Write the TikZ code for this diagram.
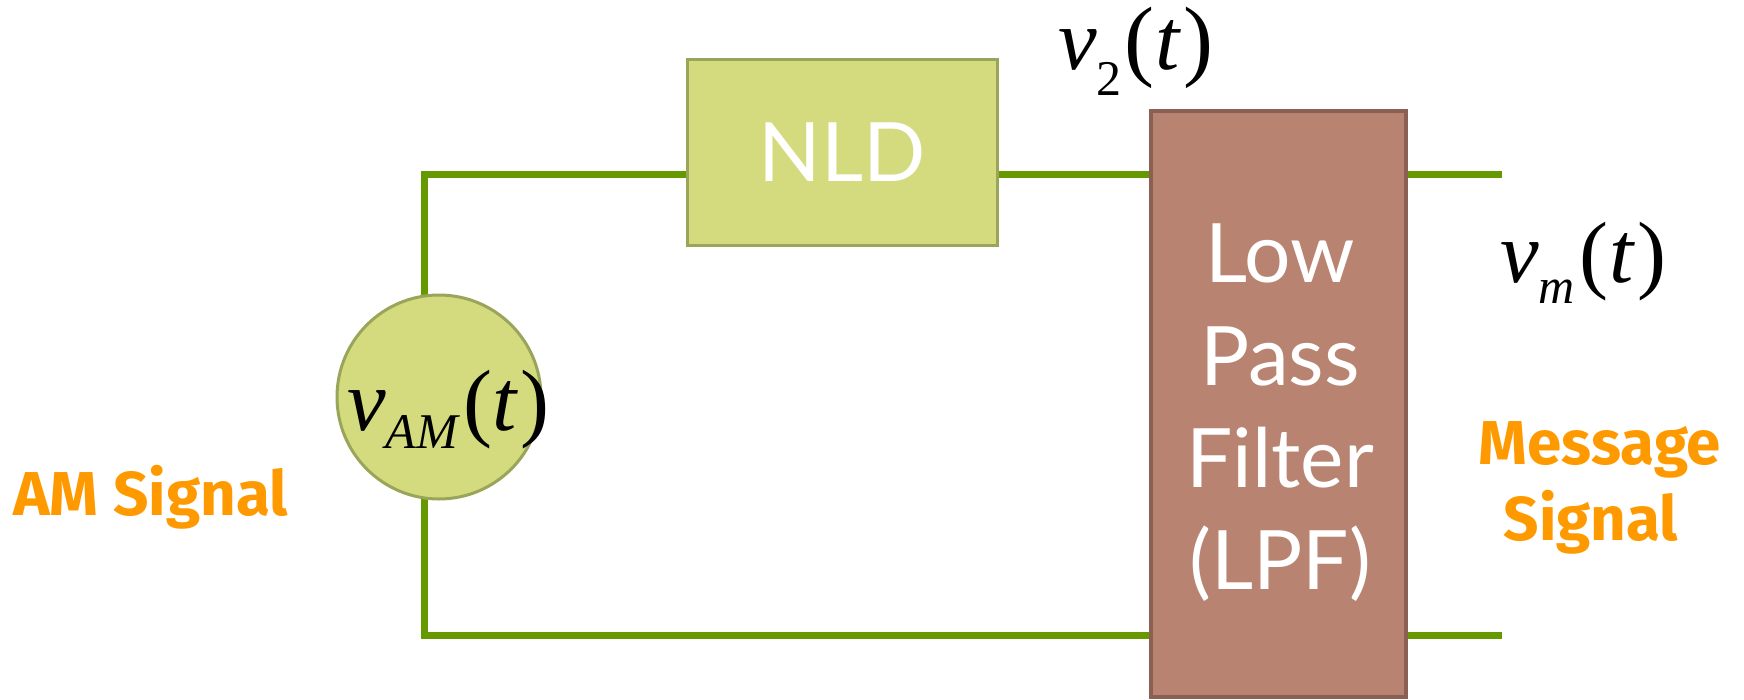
\documentclass[tikz,border=0pt]{standalone}
\usepackage{fontspec}
\setmainfont{Lato}
\newfontfamily\tms{Liberation Serif}
\newfontfamily\heavysans{Fira Sans}

\definecolor{wiregreen}{HTML}{669900}
\definecolor{nldfill}{HTML}{D4DB7E}
\definecolor{nldline}{HTML}{9BA55A}
\definecolor{lpffill}{HTML}{B88471}
\definecolor{lpfline}{HTML}{8C5F54}
\definecolor{labelorange}{HTML}{FF9900}

% italic v with a subscript, followed by (t); #4 is the size of the brackets
\newcommand{\sigvar}[4]{%
  {\fontsize{87}{87}\tms\itshape v}%
  \raisebox{-#2pt}{\fontsize{50}{50}\tms #1}%
  \kern#3pt{\fontsize{#4}{#4}\tms(\kern1pt{\fontsize{87}{87}\selectfont\textit{t}}\kern2pt)}}

\begin{document}
\begin{tikzpicture}[x=1pt,y=-1pt,
  wire/.style={draw=wiregreen,line width=7pt,line join=miter,line cap=butt},
  nldbox/.style={rectangle,fill=nldfill,draw=nldline,line width=3pt,inner sep=0pt},
  lpfbox/.style={rectangle,fill=lpffill,draw=lpfline,line width=4pt,inner sep=0pt},
  blocktext/.style={text=white,font=\fontsize{82}{102.3}\selectfont,align=center,inner sep=0pt},
  signame/.style={text=labelorange,font=\fontsize{62}{76}\heavysans\bfseries,align=center,inner sep=0pt},
  mathlabel/.style={anchor=base west,inner sep=0pt}]

\useasboundingbox (0,0) rectangle (1744,699);

% blocks
\node[nldbox,minimum width=310pt,minimum height=186pt] (nld) at (842.5,152.5) {};
\node[lpfbox,minimum width=255pt,minimum height=586pt] (lpf) at (1278.5,404) {};

% wire corners and open ends
\coordinate (tl) at (424,174);
\coordinate (bl) at (424,635);
\coordinate (out1) at (1502,174);
\coordinate (out2) at (1502,635);

% wiring
\draw[wire] (nld.west |- tl) -- (tl) -- (bl) -- (lpf.west |- bl);
\draw[wire] (nld.east |- tl) -- (lpf.west |- tl);
\draw[wire] (lpf.east |- tl) -- (out1);
\draw[wire] (lpf.east |- bl) -- (out2);

% block faces drawn over the wire ends
\node[nldbox,minimum width=310pt,minimum height=186pt,blocktext] (nldlabel) at (nld.center) {NLD};
\node[lpfbox,minimum width=255pt,minimum height=586pt] (lpfcover) at (lpf.center) {};

% source
\node[circle,fill=nldfill,draw=nldline,line width=3pt,minimum size=204pt,inner sep=0pt] (src) at (439,397) {};

% texts
\node[blocktext,anchor=north] (lpflabel) at (1280,224) {Low\\Pass\\Filter\\(LPF)};
\node[mathlabel] (vam) at (347,430) {\sigvar{\itshape AM}{18}{5}{87}};
\node[mathlabel] (vtwo) at (1058,69) {\sigvar{2}{26}{3}{90}};
\node[mathlabel] (vm) at (1500,282) {\sigvar{\itshape m}{21}{5}{87}};
\node[signame,anchor=base west] (amsig) at (13,515) {AM Signal};
\node[signame,anchor=north] (msgsig) at (1600,421) {Message\\Signal\hspace*{18pt}};
\end{tikzpicture}
\end{document}
